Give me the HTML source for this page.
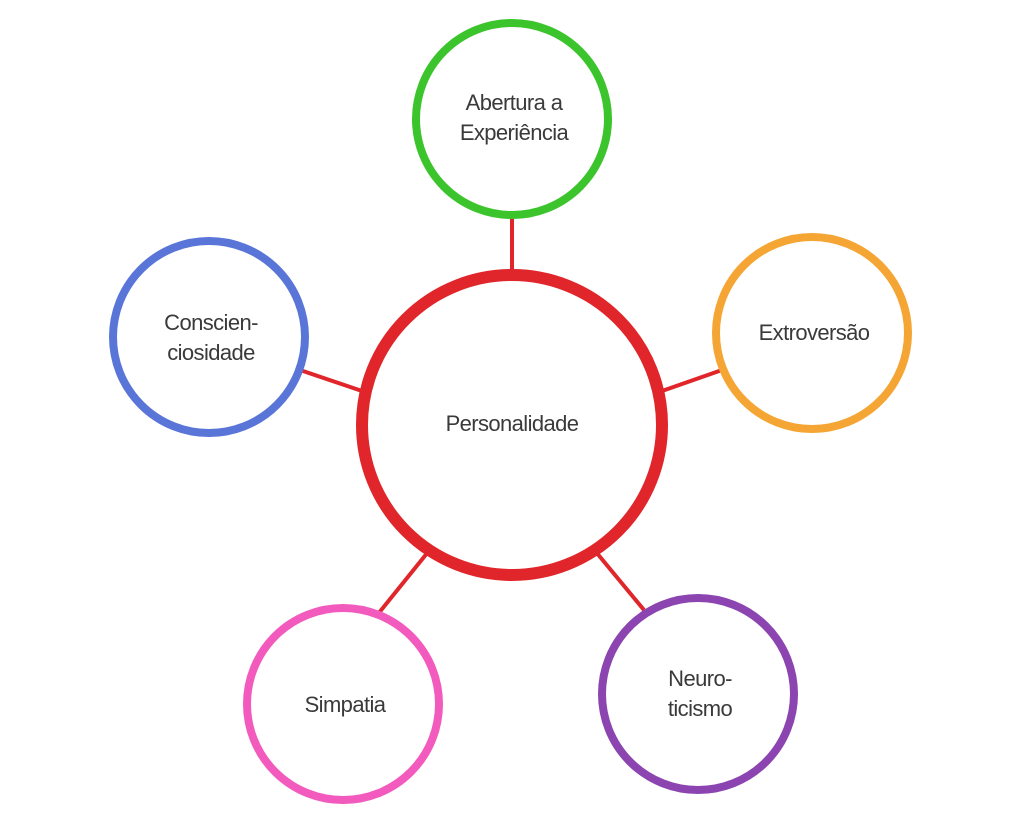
<!DOCTYPE html>
<html><head><style>
html,body{margin:0;padding:0;background:#fff;}
</style></head><body>
<svg width="1024" height="823" viewBox="0 0 1024 823" xmlns="http://www.w3.org/2000/svg">
<g stroke="#e0262b" stroke-width="4">
<line x1="512" y1="218" x2="512" y2="272"/>
<line x1="300" y1="370" x2="362" y2="391"/>
<line x1="662" y1="391" x2="722" y2="370"/>
<line x1="378" y1="614" x2="428" y2="552"/>
<line x1="596" y1="552" x2="644" y2="610"/>
</g>
<g fill="#fff">
<circle cx="512" cy="425" r="150" stroke="#e0262b" stroke-width="12"/>
<circle cx="512" cy="119" r="96" stroke="#3cc42c" stroke-width="8"/>
<circle cx="209" cy="337" r="96" stroke="#5a75d8" stroke-width="8"/>
<circle cx="812" cy="333" r="96" stroke="#f5a533" stroke-width="8"/>
<circle cx="343" cy="704" r="96" stroke="#f25bbd" stroke-width="8"/>
<circle cx="698" cy="694" r="96" stroke="#8b44b0" stroke-width="8"/>
</g>
<g font-family="Liberation Sans, sans-serif" font-size="22" fill="#3a3a3a" text-anchor="middle" letter-spacing="-0.6">
<text x="512" y="431">Personalidade</text>
<text x="514" y="110">Abertura a</text>
<text x="514" y="140">Experiência</text>
<text x="211" y="330">Conscien-</text>
<text x="211" y="360">ciosidade</text>
<text x="814" y="340">Extroversão</text>
<text x="345" y="712">Simpatia</text>
<text x="700" y="686">Neuro-</text>
<text x="700" y="716">ticismo</text>
</g>
</svg>
</body></html>
